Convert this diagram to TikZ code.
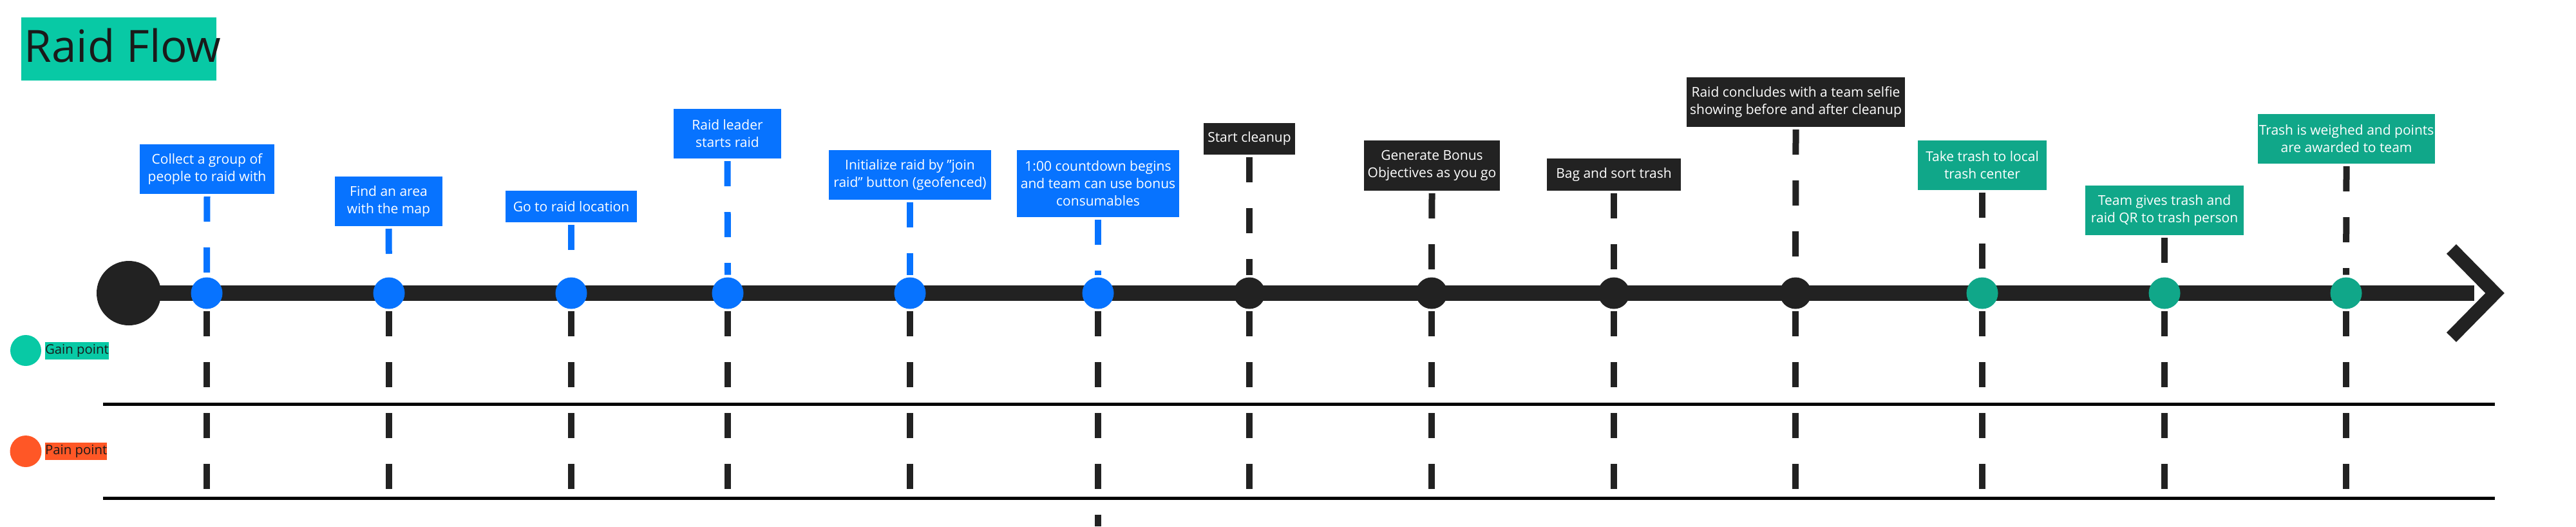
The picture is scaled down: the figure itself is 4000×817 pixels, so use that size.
\documentclass[tikz,border=0pt]{standalone}
\usepackage{fontspec}
\setmainfont{Open Sans}
\usetikzlibrary{calc}
\definecolor{rfblue}{HTML}{0773FF}
\definecolor{rfdark}{HTML}{222222}
\definecolor{rfteal}{HTML}{10A789}
\definecolor{rfmint}{HTML}{08C9A5}
\definecolor{rfred}{HTML}{FF5726}
\definecolor{rftext}{HTML}{1A1A1A}
\tikzset{
  stepbox/.style={rectangle, inner sep=0pt, outer sep=0pt, text=white, align=center,
    font=\fontsize{5.25pt}{6.75pt}\selectfont},
  sz/.style 2 args={minimum width=#1*0.25pt, minimum height=#2*0.25pt},
  dotnode/.style={circle, inner sep=0pt, outer sep=0pt, minimum size=12.25pt},
  dashline/.style={line width=2.5pt, dash pattern=on 9.75pt off 10pt},
  legendlbl/.style={anchor=west, inner sep=0pt, outer sep=0pt, minimum height=6.75pt,
    text=rftext, font=\fontsize{5.1pt}{6pt}\selectfont},
}
\begin{document}
\begin{tikzpicture}[x=0.25pt, y=-0.25pt]
\useasboundingbox (0,0) rectangle (4000,817);
\fill[white] (0,0) rectangle (4000,817);

% title
\fill[rfmint] (33,27) rectangle (336,125);
\node[anchor=base west, inner sep=0pt, text=rftext, font=\fontsize{17.25pt}{20pt}\selectfont] (title) at (37,96) {Raid Flow};

% swimlane lines
\draw[line width=1.25pt, black] (160,627) -- (3874,627);
\draw[line width=1.25pt, black] (160,773) -- (3874,773);

% reference coordinates
\coordinate (laneend) at (0,759);
\coordinate (pagebottom) at (0,817);
\coordinate (lineend) at (3842,455);
\coordinate (chevA) at (3806.5,386.5);
\coordinate (chevTip) at (3874,455);
\coordinate (chevB) at (3806.5,523.5);

% main timeline
\node[circle, fill=rfdark, inner sep=0pt, minimum size=25pt] (start) at (200,455) {};
\draw[line width=6pt, rfdark] (start.center) -- (lineend);
\draw[line width=5.25pt, rfdark, line join=miter] (chevA) -- (chevTip) -- (chevB);

% step boxes
\node[stepbox, fill=rfblue, sz={209}{77}] (b1) at (321.5,262.5) {Collect a group of\\people to raid with};
\node[stepbox, fill=rfblue, sz={167}{77}] (b2) at (603.5,312.5) {Find an area\\with the map};
\node[stepbox, fill=rfblue, sz={204}{49}] (b3) at (887,320.5) {Go to raid location};
\node[stepbox, fill=rfblue, sz={167}{77}] (b4) at (1129.5,207.5) {Raid leader\\starts raid};
\node[stepbox, fill=rfblue, sz={252}{77}] (b5) at (1413,271.5) {Initialize raid by "join\\raid" button (geofenced)};
\node[stepbox, fill=rfblue, sz={252}{104}] (b6) at (1705,285) {1:00 countdown begins\\and team can use bonus\\consumables};
\node[stepbox, fill=rfdark, sz={142}{49}] (b7) at (1940,215.5) {Start cleanup};
\node[stepbox, fill=rfdark, sz={211}{78}] (b8) at (2223.5,257) {Generate Bonus\\Objectives as you go};
\node[stepbox, fill=rfdark, sz={208}{50}] (b9) at (2506,271) {Bag and sort trash};
\node[stepbox, fill=rfdark, sz={339}{77}] (b10) at (2788.5,158.5) {Raid concludes with a team selfie\\showing before and after cleanup};
\node[stepbox, fill=rfteal, sz={200}{77}] (b11) at (3078,256.5) {Take trash to local\\trash center};
\node[stepbox, fill=rfteal, sz={246}{77}] (b12) at (3361,326.5) {Team gives trash and\\raid QR to trash person};
\node[stepbox, fill=rfteal, sz={275}{77}] (b13) at (3643.5,215.5) {Trash is weighed and points\\are awarded to team};

% timeline dots
\foreach \i/\x/\c in {1/321/rfblue, 2/604/rfblue, 3/887/rfblue, 4/1130/rfblue, 5/1413/rfblue, 6/1705/rfblue,
                      7/1940/rfdark, 8/2223/rfdark, 9/2506/rfdark, 10/2788/rfdark,
                      11/3078/rfteal, 12/3361/rfteal, 13/3643/rfteal}{
  \node[dotnode, fill=\c] (d\i) at (\x,455) {};
}

% connectors box -> dot
\foreach \i in {1,...,6}{
  \draw[dashline, rfblue] ($(b\i.south)+(0,4)$) -- ($(d\i.north)+(0,-4)$);
}
\foreach \i in {7,...,13}{
  \draw[dashline, rfdark] ($(b\i.south)+(0,4)$) -- ($(d\i.north)+(0,-4)$);
}

% dashed lines below dots
\foreach \i in {1,2,3,4,5,7,8,9,10,11,12,13}{
  \draw[dashline, rfdark] ($(d\i.south)+(0,3.5)$) -- (d\i |- laneend);
}
\draw[dashline, rfdark] ($(d6.south)+(0,3.5)$) -- (d6 |- pagebottom);

% legend
\node[circle, fill=rfmint, inner sep=0pt, minimum size=12pt] (gaindot) at (40,544) {};
\node[legendlbl, fill=rfmint] (gainlbl) at (70,544.5) {Gain point};
\node[circle, fill=rfred, inner sep=0pt, minimum size=12.25pt] (paindot) at (40,700.5) {};
\node[legendlbl, fill=rfred] (painlbl) at (70,700.5) {Pain point};
\end{tikzpicture}
\end{document}
